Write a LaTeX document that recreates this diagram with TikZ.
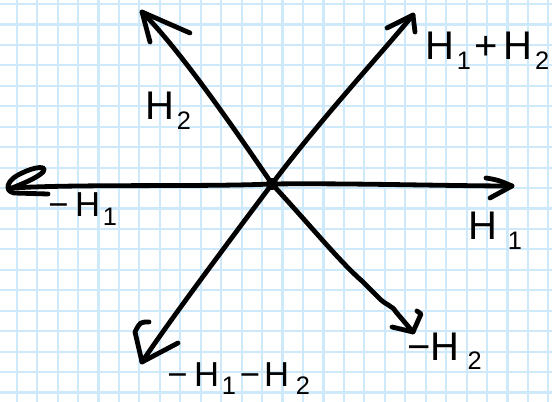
\documentclass[tikz,border=0pt]{standalone}
\usepackage{fontspec}
\setmainfont{Liberation Sans}
\definecolor{gridblue}{RGB}{206,233,250}
\tikzset{
  gridline/.style={gridblue, line width=1.6pt},
  pen/.style={black, line width=3.6pt, line cap=round, line join=round},
  lab/.style={inner sep=0pt, anchor=base west, font=\fontsize{30}{30}\selectfont},
  labsmall/.style={lab, font=\fontsize{26}{26}\selectfont},
}
\newcommand{\sbs}[1]{\hspace{2pt}\raisebox{-0.24em}{\fontsize{19}{19}\selectfont #1}}
\begin{document}
\begin{tikzpicture}[x=0.75pt,y=-0.75pt]
\useasboundingbox (0,0) rectangle (552,402);
\fill[white] (0,0) rectangle (552,402);
% grid paper
\foreach \i in {0,...,26} \draw[gridline] ({16.7+\i*20.45},0) -- ({16.7+\i*20.45},402);
\foreach \j in {0,...,19} \draw[gridline] (0,{4+\j*20.45}) -- (552,{4+\j*20.45});

% points
\coordinate (o) at (272,184);
\coordinate (t1) at (512,186);
\coordinate (tl) at (12,188);
\coordinate (t2) at (142,12);
\coordinate (t3) at (413,15);
\coordinate (t4) at (142,362);
\coordinate (t5) at (413,332);

% H1 (right)
\draw[pen] (o) .. controls (350,183) and (450,186) .. (t1);
\draw[pen] (486,178) .. controls (498,180) .. (t1) -- (490,198);
% -H1 (left)
\draw[pen] (o) .. controls (200,187) and (80,184) .. (tl);
\draw[pen] (48,194) -- (14,193) .. controls (4,191) and (6,180) .. (22,173)
  .. controls (34,167) and (48,165) .. (43,172) .. controls (37,178) and (22,184) .. (tl);
% H2
\draw[pen] (o) .. controls (215,100) and (172,42) .. (t2);
\draw[pen] (150,42) -- (t2) -- (190,33);
% H1+H2
\draw[pen] (o) .. controls (320,120) and (380,55) .. (t3);
\draw[pen] (387,28) -- (t3) -- (415,32);
% -H1-H2
\draw[pen] (o) .. controls (230,240) and (170,320) .. (t4);
\draw[pen] (149,322) .. controls (140,322) .. (135,332) -- (t4) -- (178,343);
% -H2
\draw[pen] (o) .. controls (310,225) and (340,262) .. (362,281) -- (378,297)
  .. controls (385,305) and (392,305) .. (396,312) -- (t5);
\draw[pen] (392,327) -- (t5) -- (421,314) -- (417,311);
% centre dot
\fill (o) circle (6);

% labels
\node[lab] (lh2) at (145,120) {H\sbs{2}};
\node[lab] (lh12) at (425,60) {H\sbs{1}\hspace{3pt}+\hspace{4pt}H\sbs{2}};
\node[labsmall] (lmh1) at (48,217) {−\hspace{5pt}H\sbs{1}};
\node[lab] (lh1) at (468,240) {H\hspace{6pt}\sbs{1}};
\node[lab] (lmh2) at (407,360) {−H\hspace{4pt}\sbs{2}};
\node[labsmall] (lmh12) at (167,386) {−\hspace{5pt}H\sbs{1}\hspace{3pt}−\hspace{3pt}H\hspace{3pt}\sbs{2}};
\end{tikzpicture}
\end{document}
